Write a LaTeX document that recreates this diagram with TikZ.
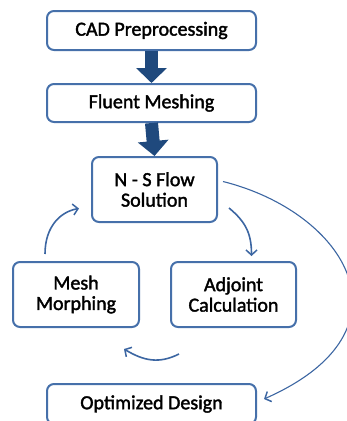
\documentclass[tikz,border=0pt]{standalone}
\usepackage{fontspec}
\setmainfont[FakeBold=1.8,BoldFont={Carlito}]{Carlito}
\usetikzlibrary{arrows.meta,calc}
\definecolor{boxblue}{HTML}{4670AA}
\definecolor{darkblue}{HTML}{1F497D}
\definecolor{lineblue}{HTML}{3C66A2}
\begin{document}
\begin{tikzpicture}[x=1pt,y=-1pt,
  box/.style={draw=boxblue,line width=2pt,rounded corners=7pt,fill=white,inner sep=0pt,
    align=center,font=\fontsize{20}{20.5}\selectfont\bfseries},
  bigarrow/.style={draw=darkblue,line width=13pt,-{Triangle[width=30pt,length=15pt]}},
  curvearrow/.style={draw=lineblue,line width=1.6pt,-{Straight Barb[length=5pt,width=11pt,line width=1.5pt]}}]
\useasboundingbox (0,0) rectangle (346,421);
\node[box,minimum width=209pt,minimum height=39pt] (cad) at (151.5,30.5) {CAD Preprocessing};
\node[box,minimum width=209pt,minimum height=38pt] (fluent) at (151.5,103) {Fluent Meshing};
\node[box,minimum width=125pt,minimum height=65pt] (ns) at (154.5,189.5) {N - S Flow\\Solution};
\node[box,minimum width=126pt,minimum height=65pt] (mesh) at (76,294.5) {Mesh\\Morphing};
\node[box,minimum width=125pt,minimum height=65pt] (adj) at (233.5,294.5) {Adjoint\\Calculation};
\node[box,minimum width=209pt,minimum height=40pt] (opt) at (151.5,404) {Optimized Design};
\draw[bigarrow] (cad.south) -- (fluent.north);
\draw[bigarrow] (fluent.south) -- (ns.north);
\coordinate (m1) at ($(mesh.north)+(-31,-7)$);
\coordinate (m2) at ($(ns.west)+(-12,19)$);
\draw[curvearrow] (m1) .. controls +(0,-28) and +(-18,3) .. (m2);
\coordinate (n1) at ($(ns.south east)+(11,-15)$);
\coordinate (n2) at ($(adj.north)+(18,-5)$);
\draw[curvearrow] (n1) .. controls +(17,14) and +(0,-22) .. (n2);
\coordinate (a1) at ($(adj.south west)+(9,26)$);
\coordinate (a2) at ($(mesh.south east)+(-16,21)$);
\draw[curvearrow] (a1) .. controls +(-20,10) and +(20,12) .. (a2);
\coordinate (o1) at ($(ns.east)+(5,-8)$);
\coordinate (o2) at ($(opt.east)+(7,-5)$);
\draw[curvearrow,line width=1.1pt] (o1) .. controls (345,212) and (420,330) .. (o2);
\end{tikzpicture}
\end{document}
